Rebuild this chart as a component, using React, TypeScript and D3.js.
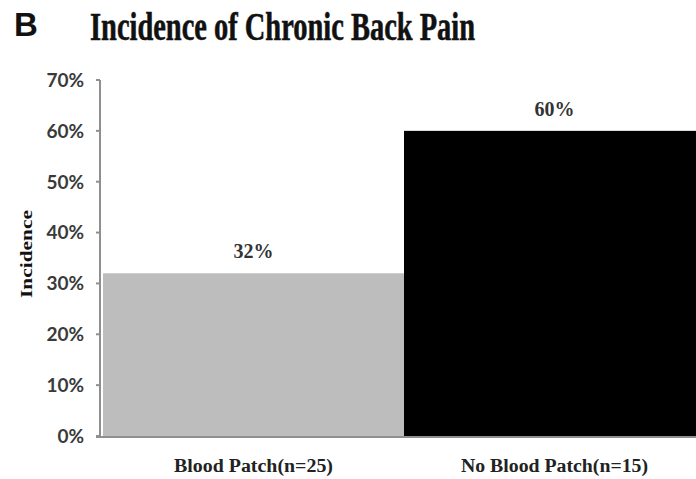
import React from "react";
import * as d3 from "d3";

const categories = ["Blood Patch(n=25)", "No Blood Patch(n=15)"];
const incidence = [32, 60];
const barColors = ["#bdbdbd", "#000000"];
const yTicks = [0, 10, 20, 30, 40, 50, 60, 70];

const W = 696;
const H = 479;

export default function App() {
  const x = d3.scaleBand<string>().domain(categories).range([103, 705]).padding(0);
  const y = d3.scaleLinear().domain([0, 70]).range([436, 80]);

  const serif = "'Liberation Serif', 'DejaVu Serif', serif";
  const sans = "Lato, 'Open Sans', 'Liberation Sans', sans-serif";

  return (
    <svg
      width={W}
      height={H}
      style={{ position: "absolute", left: 0, top: 0, background: "#fff" }}
    >
      {/* panel letter */}
      <text x={14} y={36} fontFamily="'Liberation Sans', Arial, sans-serif" fontWeight="bold" fontSize={33} fill="#111">
        B
      </text>
      {/* title */}
      <text
        x={90}
        y={40}
        fontFamily={serif}
        fontWeight="bold"
        fontSize={40}
        fill="#111"
        stroke="#111"
        strokeWidth={0.6}
        textLength={385}
        lengthAdjust="spacingAndGlyphs"
      >
        Incidence of Chronic Back Pain
      </text>

      {/* bars */}
      {categories.map((c, i) => (
        <rect
          key={c}
          x={x(c)!}
          y={y(incidence[i])}
          width={x.bandwidth()}
          height={y(0) - y(incidence[i])}
          fill={barColors[i]}
        />
      ))}

      {/* value labels */}
      {categories.map((c, i) => (
        <text
          key={c + "-v"}
          x={x(c)! + x.bandwidth() / 2}
          y={y(incidence[i]) - 15}
          textAnchor="middle"
          fontFamily={serif}
          fontWeight="bold"
          fontSize={20}
          fill="#333"
          textLength={40}
          lengthAdjust="spacingAndGlyphs"
        >
          {`${incidence[i]}%`}
        </text>
      ))}

      {/* y axis */}
      <line x1={100} x2={100} y1={y(70)} y2={y(0)} stroke="#8f8f8f" strokeWidth={2} />
      {yTicks.map((t) => (
        <g key={t}>
          <line x1={96} x2={100} y1={y(t)} y2={y(t)} stroke="#8f8f8f" strokeWidth={2} />
          <text
            x={84}
            y={y(t)}
            dy="0.36em"
            textAnchor="end"
            fontFamily={sans}
            fontWeight="bold"
            fontSize={19}
            fill="#3a3a3a"
          >
            {`${t}%`}
          </text>
        </g>
      ))}
      {/* x axis */}
      <line x1={96} x2={W} y1={y(0) + 1} y2={y(0) + 1} stroke="#8f8f8f" strokeWidth={2} />

      {/* category labels */}
      {categories.map((c) => (
        <text
          key={c + "-l"}
          x={x(c)! + x.bandwidth() / 2}
          y={472}
          textAnchor="middle"
          fontFamily={serif}
          fontWeight="bold"
          fontSize={18}
          fill="#222"
          textLength={c.length * 9.35}
          lengthAdjust="spacingAndGlyphs"
        >
          {c}
        </text>
      ))}

      {/* y axis title */}
      <text
        transform="translate(32,254) rotate(-90)"
        textAnchor="middle"
        fontFamily={serif}
        fontWeight="bold"
        fontSize={17}
        fill="#111"
        textLength={88}
        lengthAdjust="spacingAndGlyphs"
      >
        Incidence
      </text>
    </svg>
  );
}
